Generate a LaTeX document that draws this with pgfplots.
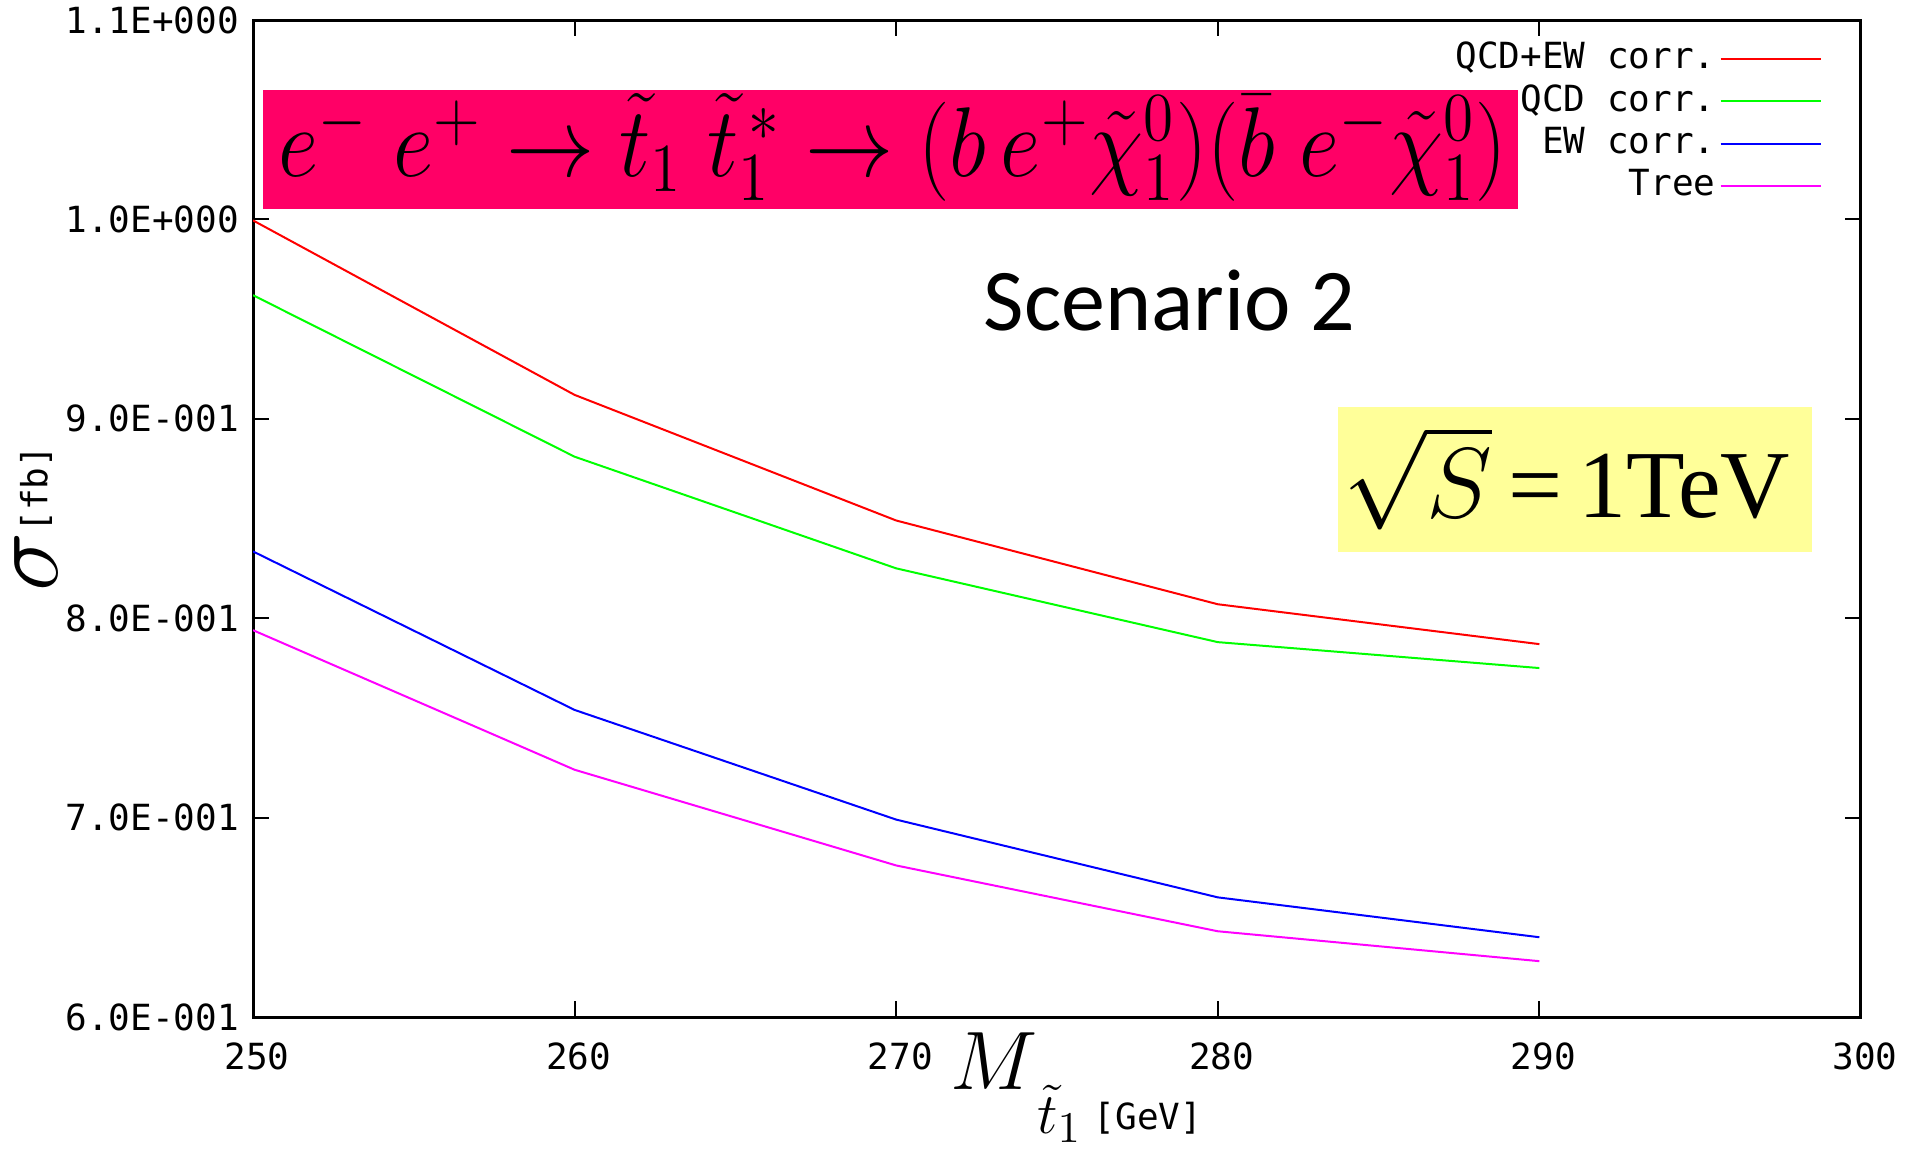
\documentclass[border=0pt]{standalone}
\usepackage{fontspec}
\usepackage{pgfplots}
\pgfplotsset{compat=1.18}
\newfontfamily\monofont{DejaVu Sans Mono}
\newfontfamily\calfont{Carlito}
\newfontfamily\timesfont{Liberation Serif}
\definecolor{titlepink}{HTML}{FF0066}
\definecolor{boxyellow}{HTML}{FFFF99}
\definecolor{lred}{rgb}{1,0,0}
\definecolor{lgreen}{rgb}{0,1,0}
\definecolor{lblue}{rgb}{0,0,1}
\definecolor{lmag}{rgb}{1,0,1}
\begin{document}
\begin{tikzpicture}[x=1pt,y=1pt]
\useasboundingbox (0,0) rectangle (476.75,287);
\begin{axis}[
  at={(63.25pt,32.75pt)}, anchor=south west,
  scale only axis, width=402pt, height=249.25pt,
  xmin=250, xmax=300, ymin=0.6, ymax=1.1,
  xtick={250,260,270,280,290,300},
  ytick={0.6,0.7,0.8,0.9,1.0,1.1},
  yticklabels={6.0E-001,7.0E-001,8.0E-001,9.0E-001,1.0E+000,1.1E+000},
  /pgf/number format/assume math mode=true,
  ticklabel style={font=\monofont\fontsize{9}{9}\selectfont},
  xticklabel style={yshift=-3pt, xshift=1pt},
  tick align=inside, tick pos=both,
  major tick length=4pt,
  axis line style={line width=0.75pt},
  major tick style={black, line width=0.5pt},
  xlabel={{\fontsize{21}{21}\selectfont$M$}\raisebox{-11pt}{\fontsize{15}{15}\selectfont$\tilde t_1$}\hspace{3pt}\raisebox{-10pt}{\monofont\fontsize{9}{9}\selectfont[GeV]}},
  xlabel style={at={(axis description cs:0.512,-0.071)}, anchor=center},
  ylabel={{\fontsize{26}{26}\selectfont$\sigma$}\raisebox{2.5pt}{\monofont\fontsize{9}{9}\selectfont[fb]}},
  ylabel style={at={(axis description cs:-0.135,0.5)}, anchor=center, rotate=0},
  legend style={at={(rel axis cs:0.976,0.982)}, anchor=north east, draw=none, fill=none,
    font=\monofont\fontsize{9}{9}\selectfont, inner sep=0pt, row sep=0.6pt,
    nodes={inner sep=1pt, text height=6.5pt, text depth=1.5pt}},
  legend cell align=right,
  legend plot pos=right,
  legend image code/.code={\draw[#1] (0pt,0pt) -- (25pt,0pt);},
]
\fill[titlepink] (rel axis cs:0.0062,0.810) rectangle (rel axis cs:0.787,0.930);
\node[anchor=center, inner sep=0pt] at (rel axis cs:0.398,0.8726)
  {\resizebox*{307pt}{27pt}{\fontsize{20}{20}\selectfont$e^{-}\;e^{+}\to\tilde{t}_1\;\tilde{t}_1^{\,*}\to\bigg(b\,e^{+}\tilde{\chi}_1^{0}\bigg)\bigg(\bar{b}\;e^{-}\tilde{\chi}_1^{0}\bigg)$}};
\fill[boxyellow] (rel axis cs:0.675,0.466) rectangle (rel axis cs:0.9695,0.612);
\node[anchor=base, inner sep=0pt] at (rel axis cs:0.817,0.5015)
  {\fontsize{24}{24}\selectfont$\sqrt{S}$\,{\timesfont =\,1TeV}};
\node[anchor=base, inner sep=0pt] at (rel axis cs:0.570,0.689)
  {\calfont\fontsize{22}{22}\selectfont Scenario 2};
\addplot[lred, line width=0.5pt] coordinates {(250,0.9995) (260,0.912) (270,0.849) (280,0.807) (290,0.787)};
\addlegendentry{QCD+EW corr.}
\addplot[lgreen, line width=0.5pt] coordinates {(250,0.962) (260,0.881) (270,0.825) (280,0.788) (290,0.775)};
\addlegendentry{QCD corr.}
\addplot[lblue, line width=0.5pt] coordinates {(250,0.8335) (260,0.754) (270,0.699) (280,0.660) (290,0.640)};
\addlegendentry{EW corr.}
\addplot[lmag, line width=0.5pt] coordinates {(250,0.794) (260,0.724) (270,0.676) (280,0.643) (290,0.628)};
\addlegendentry{Tree}
\end{axis}
\end{tikzpicture}
\end{document}
